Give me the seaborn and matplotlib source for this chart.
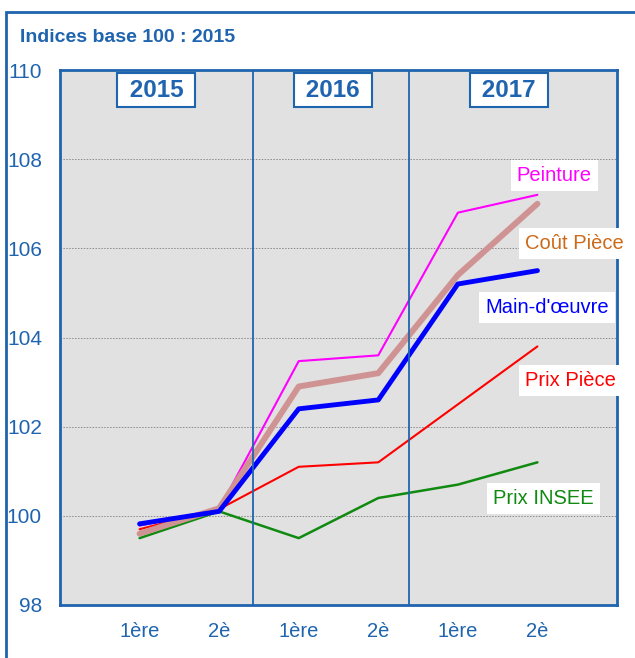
import matplotlib
matplotlib.use("Agg")
import matplotlib.pyplot as plt
import seaborn as sns
import pandas as pd
from matplotlib.patches import Rectangle

# data
semestres = ["1ère", "2è", "1ère", "2è", "1ère", "2è"]
annees = ["2015", "2016", "2017"]
prix_insee = [99.5, 100.1, 99.5, 100.4, 100.7, 101.2]
prix_piece = [99.7, 100.15, 101.1, 101.2, 102.5, 103.8]
peinture = [99.78, 100.15, 103.47, 103.6, 106.8, 107.2]
cout_piece = [99.6, 100.17, 102.9, 103.2, 105.4, 107.0]
main_oeuvre = [99.82, 100.1, 102.4, 102.6, 105.2, 105.5]

BLUE = "#1f64ae"

sns.set_style("white")
plt.rcParams["font.family"] = ["Liberation Sans", "DejaVu Sans"]

fig = plt.figure(figsize=(6.35, 6.58), dpi=100)
ax = fig.add_axes([60 / 635, 1 - 605 / 658, 557 / 635, 535 / 658])
ax.set_facecolor("#e1e1e1")

x = list(range(len(semestres)))
series = [
    ("Prix INSEE", prix_insee, "#108a10", 1.8),
    ("Prix Pièce", prix_piece, "#ff0000", 1.5),
    ("Peinture", peinture, "#ff00ff", 1.5),
    ("Coût Pièce", cout_piece, "#d09393", 4.3),
    ("Main-d'œuvre", main_oeuvre, "#0000ff", 3.5),
]
for name, vals, col, lw in series:
    df = pd.DataFrame({"x": x, "y": vals})
    sns.lineplot(data=df, x="x", y="y", color=col, linewidth=lw, ax=ax,
                 solid_capstyle="round", solid_joinstyle="round")

# dotted gridlines
for v in [100, 102, 104, 106, 108]:
    ax.axhline(v, color="#8a8a8a", linestyle=(0, (1.5, 1.5)), linewidth=0.7, zorder=0.5)

# year separators
for xv in [1.43, 3.39]:
    ax.axvline(xv, color=BLUE, linewidth=1.3)

ax.set_xlim(-1, 6)
ax.set_ylim(98, 110)
ax.set_xticks(x)
ax.set_xticklabels(semestres)
ax.set_yticks([98, 100, 102, 104, 106, 108, 110])
ax.set_xlabel("")
ax.set_ylabel("")
ax.tick_params(axis="x", colors=BLUE, labelsize=14.5, direction="in", length=7,
               color="#a8c4e0", pad=12)
ax.tick_params(axis="y", colors=BLUE, labelsize=15, direction="out", length=6,
               color="#a8c4e0", pad=7)
for s in ax.spines.values():
    s.set_color(BLUE)
    s.set_linewidth(2)

# year boxes
for xc, yr in zip([0.21, 2.43, 4.64], annees):
    ax.text(xc, 109.55, " " + yr + " ", ha="center", va="center", fontsize=17.5,
            fontweight="bold", color=BLUE,
            bbox=dict(boxstyle="square,pad=0.22", fc="white", ec=BLUE, lw=1.5))

# series labels
labels = [
    ("Peinture", 5.21, 107.64, "#ff00ff"),
    ("Coût Pièce", 5.47, 106.1, "#cc6a1a"),
    ("Main-d'œuvre", 5.12, 104.68, "#0000ff"),
    ("Prix Pièce", 5.42, 103.04, "#ff0000"),
    ("Prix INSEE", 5.08, 100.38, "#108a10"),
]
for txt, xl, yl, col in labels:
    ax.text(xl, yl, txt, ha="center", va="center", fontsize=14.5, color=col,
            bbox=dict(boxstyle="square,pad=0.3", fc="white", ec="none"))

fig.text(20 / 635, 1 - 37 / 658, "Indices base 100 : 2015", fontsize=14,
         fontweight="bold", color=BLUE, ha="left", va="center")

# outer frame
fig.patches.append(Rectangle((6 / 635, -0.2), 1.2, 1.2 - 12 / 658,
                             transform=fig.transFigure, fill=False, ec=BLUE, lw=2))

fig.savefig("out.png", dpi=100)
